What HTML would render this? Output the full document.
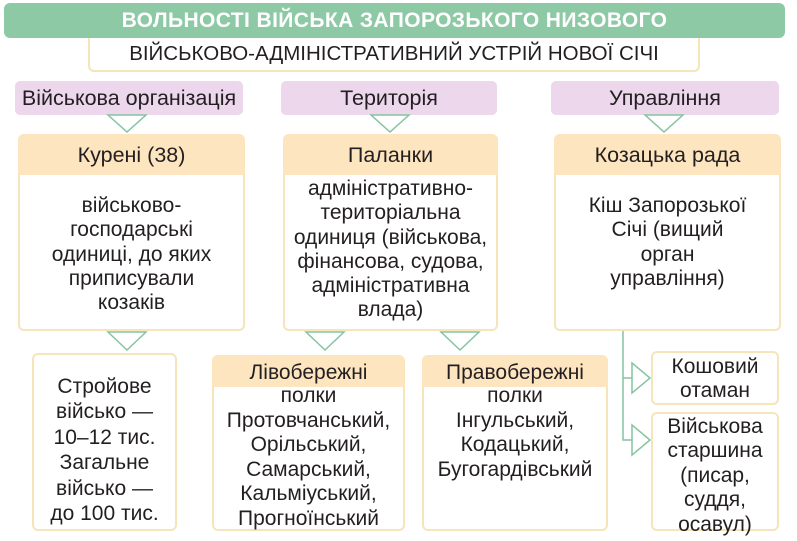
<!DOCTYPE html>
<html><head><meta charset="utf-8"><style>
body{margin:0;width:797px;height:541px;background:#fff;position:relative;font-family:"Liberation Sans",sans-serif;color:#231f20;overflow:hidden}
.a{position:absolute;box-sizing:border-box;text-align:center;white-space:nowrap}
.t{background:#8ec9a6;border-radius:6px;color:#fff;font-weight:bold;font-size:21px;line-height:35px;letter-spacing:.4px}
.s{border:2px solid #f5e6b8;border-top:none;border-radius:0 0 6px 6px;font-size:20.5px;line-height:31px;background:#fff}
.p{background:#ecd7ec;border-radius:5px;font-size:21.5px;line-height:34px}
.o{background:#fde5bf;border-radius:6px 6px 0 0;font-size:21.5px;line-height:42px}
.b{border:2px solid #f6e4bb;border-radius:6px;font-size:21px;line-height:24.3px;background:#fff}
</style></head><body>
<div class="a t" style="left:4px;top:3px;width:781px;height:35px">ВОЛЬНОСТІ ВІЙСЬКА ЗАПОРОЗЬКОГО НИЗОВОГО</div>
<div class="a s" style="left:88px;top:38px;width:612px;height:34px">ВІЙСЬКОВО-АДМІНІСТРАТИВНИЙ УСТРІЙ НОВОЇ СІЧІ</div>
<div class="a p" style="left:15px;top:81px;width:228px;height:34px">Військова організація</div>
<div class="a p" style="left:281px;top:81px;width:216px;height:34px">Територія</div>
<div class="a p" style="left:551px;top:81px;width:228px;height:34px">Управління</div>

<div class="a b" style="left:18px;top:134px;width:227px;height:197px;padding-top:58px">військово-<br>господарські<br>одиниці, до яких<br>приписували<br>козаків</div>
<div class="a o" style="left:18px;top:134px;width:227px;height:41px">Курені (38)</div>
<div class="a b" style="left:283px;top:134px;width:215px;height:197px;padding-top:41px">адміністративно-<br>територіальна<br>одиниця (військова,<br>фінансова, судова,<br>адміністративна<br>влада)</div>
<div class="a o" style="left:283px;top:134px;width:215px;height:41px">Паланки</div>
<div class="a b" style="left:554px;top:134px;width:227px;height:197px;padding-top:58px">Кіш Запорозької<br>Січі (вищий<br>орган<br>управління)</div>
<div class="a o" style="left:554px;top:134px;width:227px;height:41px">Козацька рада</div>

<div class="a b" style="left:32px;top:353px;width:145px;height:178px;padding-top:19px;font-size:21px;line-height:25.4px">Стройове<br>військо —<br>10–12 тис.<br>Загальне<br>військо —<br>до 100 тис.</div>
<div class="a b" style="left:212px;top:355px;width:193px;height:176px;padding-top:27px;line-height:24.6px">полки<br>Протовчанський,<br>Орільський,<br>Самарський,<br>Кальміуський,<br>Прогноїнський</div>
<div class="a o" style="left:212px;top:355px;width:193px;height:32px;line-height:36px;font-size:21px">Лівобережні</div>
<div class="a b" style="left:422px;top:355px;width:186px;height:176px;padding-top:27px;line-height:24.6px">полки<br>Інгульський,<br>Кодацький,<br>Бугогардівський</div>
<div class="a o" style="left:422px;top:355px;width:186px;height:32px;line-height:36px;font-size:21px">Правобережні</div>
<div class="a b" style="left:651px;top:351px;width:128px;height:54px;padding-top:2px;line-height:24px">Кошовий<br>отаман</div>
<div class="a b" style="left:651px;top:412px;width:128px;height:119px;padding-top:1px;line-height:24.4px">Військова<br>старшина<br>(писар,<br>суддя,<br>осавул)</div>

<svg class="a" style="left:0;top:0" width="797" height="541">
<g fill="#fff" stroke="#86c4a0" stroke-width="1.5">
<polygon points="108,115 146,115 127,132"/>
<polygon points="371,115 409,115 390,132"/>
<polygon points="645,115 683,115 664,132"/>
<polygon points="108,332 146,332 127,350"/>
<polygon points="306,332 344,332 325,350"/>
<polygon points="441,332 479,332 460,350"/>
<polyline points="623,331 623,440 632,440" fill="none"/>
<line x1="623" y1="378" x2="632" y2="378"/>
<polygon points="632,363 632,393 650,378"/>
<polygon points="632,425 632,455 650,440"/>
</g></svg>
</body></html>
